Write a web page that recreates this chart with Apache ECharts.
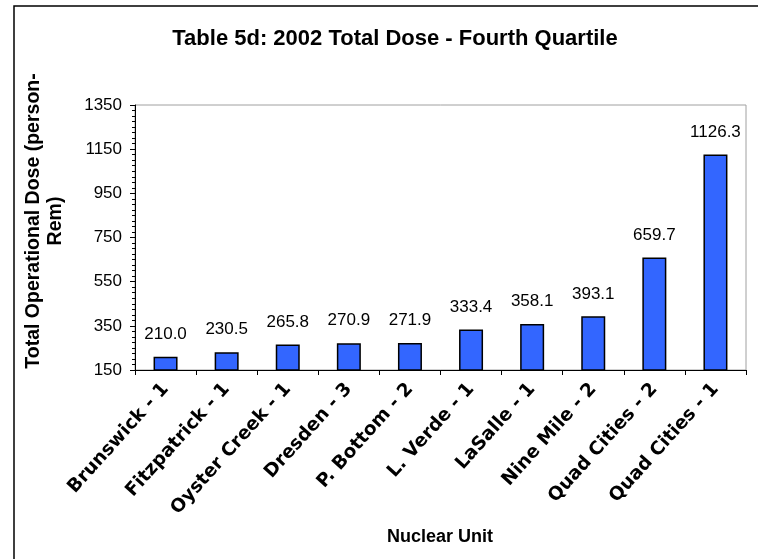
<!DOCTYPE html>
<html>
<head>
<meta charset="utf-8">
<script src="https://cdn.jsdelivr.net/npm/echarts@6/dist/echarts.min.js"></script>
<style>
  html, body { margin: 0; padding: 0; background: #fff; }
  #chart { width: 758px; height: 559px; }
</style>
</head>
<body>
<div id="chart"></div>
<script>
const categories = ['Brunswick - 1', 'Fitzpatrick - 1', 'Oyster Creek - 1', 'Dresden - 3', 'P. Bottom - 2', 'L. Verde - 1', 'LaSalle - 1', 'Nine Mile - 2', 'Quad Cities - 2', 'Quad Cities - 1'];
const doseValues = [210.0, 230.5, 265.8, 270.9, 271.9, 333.4, 358.1, 393.1, 659.7, 1126.3];
const titleText = 'Table 5d: 2002 Total Dose - Fourth Quartile';
const yAxisTitle = 'Total Operational Dose (person-\nRem)';
const xAxisTitle = 'Nuclear Unit';
const yMin = 150, yMax = 1350, yStep = 200;

const FONT = 'Arial, "Liberation Sans", sans-serif';
const WIDE = '"DejaVu Sans", Arial, sans-serif';
const chart = echarts.init(document.getElementById('chart'), null, { renderer: 'canvas' });
chart.setOption({
  backgroundColor: '#ffffff',
  animation: false,
  title: {
    text: titleText,
    left: 390,
    textAlign: 'center',
    top: 23,
    textStyle: { fontFamily: FONT, fontWeight: 'bold', fontSize: 22, color: '#000' }
  },
  grid: {
    left: 135, right: 12, top: 105, bottom: 189,
    show: true, borderColor: '#a0a0a0', borderWidth: 1, backgroundColor: 'transparent'
  },
  xAxis: {
    type: 'category',
    data: categories,
    axisLine: { lineStyle: { color: '#000', width: 1 } },
    axisTick: { show: true, alignWithLabel: false, length: 5, lineStyle: { color: '#000' } },
    axisLabel: {
      interval: 0, rotate: 48, margin: 16,
      fontFamily: WIDE, fontWeight: 'bold', fontSize: 18.5, color: '#000'
    },
    splitLine: { show: false }
  },
  yAxis: {
    type: 'value',
    min: yMin, max: yMax, interval: yStep,
    axisLine: { show: true, lineStyle: { color: '#000', width: 1 } },
    axisTick: { show: true, length: 5, lineStyle: { color: '#000' } },
    minorTick: { show: true, splitNumber: 8, length: 3, lineStyle: { color: '#000' } },
    axisLabel: { margin: 13, fontFamily: FONT, fontSize: 17, color: '#000', formatter: v => String(v) },
    splitLine: { show: false }
  },
  graphic: [
    {
      type: 'polyline',
      shape: { points: [[14, 559], [14, 6], [758, 6]] },
      style: { stroke: '#000', lineWidth: 1.5, fill: null }
    },
    {
      type: 'text',
      x: 45, y: 221, rotation: Math.PI / 2,
      style: {
        text: yAxisTitle, fontFamily: FONT, fontWeight: 'bold', fontSize: 19.5,
        fill: '#000', align: 'center', verticalAlign: 'middle', lineHeight: 22
      }
    },
    {
      type: 'text',
      x: 440, y: 537,
      style: {
        text: xAxisTitle, fontFamily: FONT, fontWeight: 'bold', fontSize: 18,
        fill: '#000', align: 'center', verticalAlign: 'middle'
      }
    }
  ],
  series: [{
    type: 'bar',
    data: doseValues,
    barWidth: 24,
    itemStyle: { color: '#3366FF', borderColor: '#000', borderWidth: 1.5 },
    label: {
      show: true, position: 'top', distance: 14,
      formatter: p => p.value.toFixed(1),
      fontFamily: FONT, fontSize: 17, color: '#000'
    }
  }]
});
</script>
</body>
</html>
